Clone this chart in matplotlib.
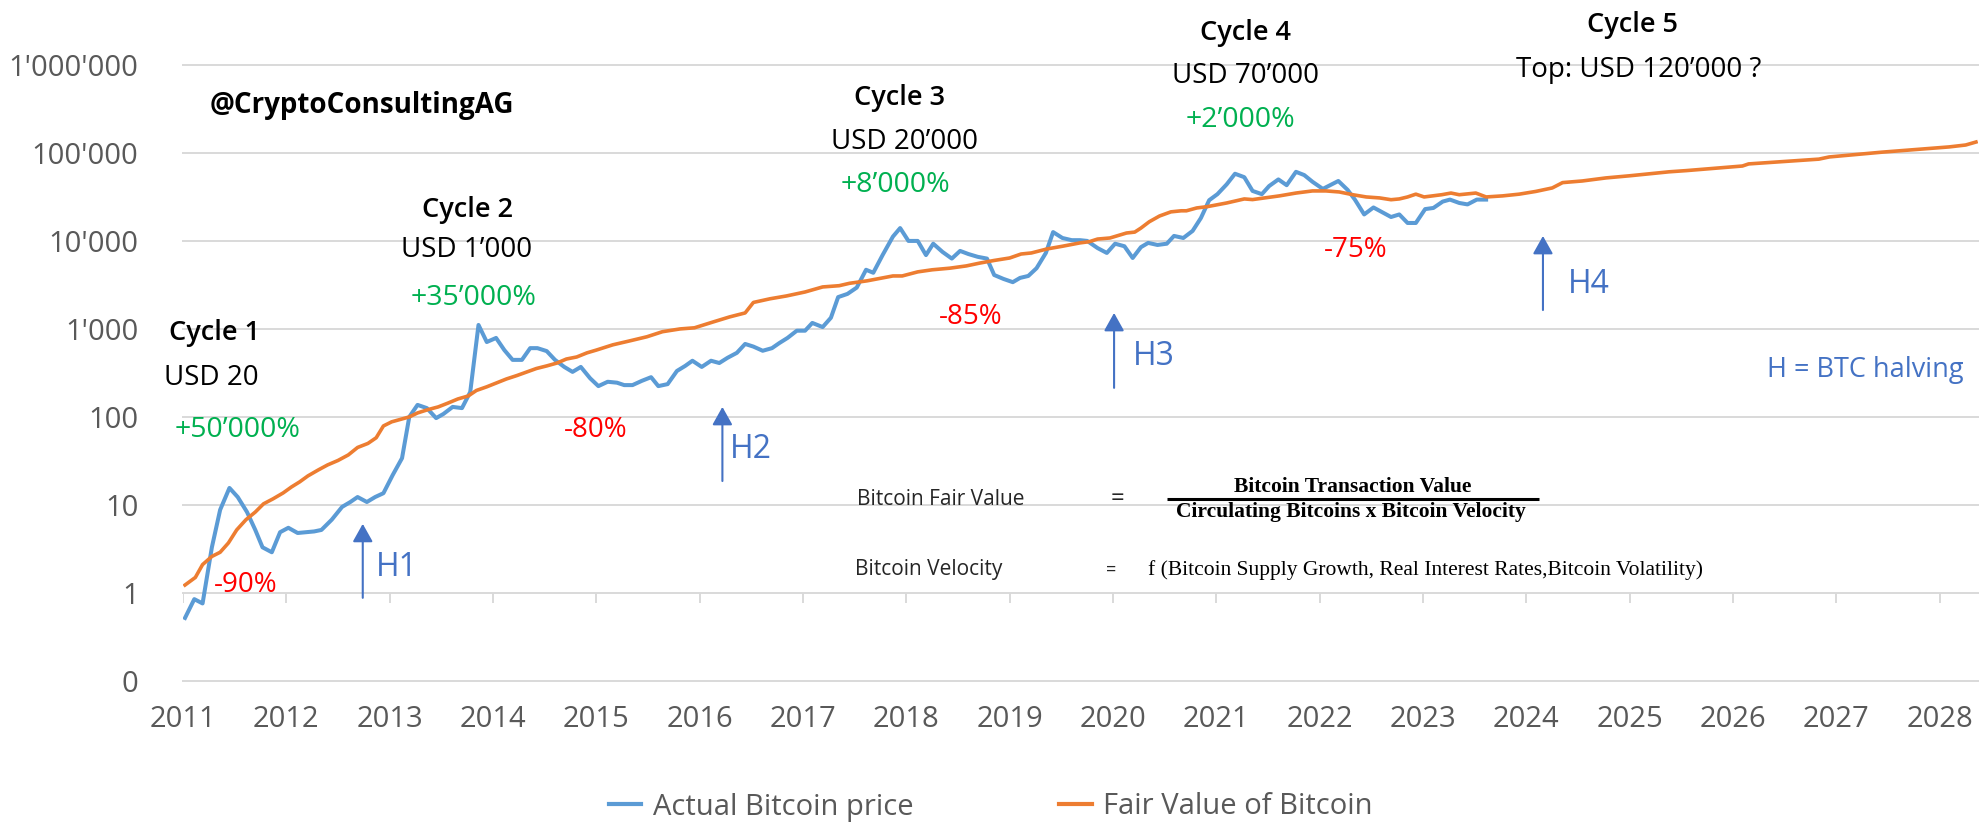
import matplotlib
matplotlib.use("Agg")
import matplotlib.pyplot as plt
from matplotlib.lines import Line2D

plt.rcParams['font.family'] = ['Open Sans', 'DejaVu Sans']

# Actual bitcoin price (monthly)
blue_years = [2011.02, 2011.11, 2011.19, 2011.28, 2011.36, 2011.45, 2011.53, 2011.62, 2011.70, 2011.77,
              2011.86, 2011.94, 2012.02, 2012.11, 2012.19, 2012.27, 2012.34, 2012.44, 2012.54, 2012.62,
              2012.69, 2012.78, 2012.86, 2012.94, 2013.03, 2013.12, 2013.19, 2013.27, 2013.36, 2013.45,
              2013.52, 2013.61, 2013.70, 2013.78, 2013.86, 2013.94, 2014.03, 2014.11, 2014.19, 2014.28,
              2014.36, 2014.43, 2014.52, 2014.60, 2014.69, 2014.77, 2014.85, 2014.94, 2015.02, 2015.11,
              2015.20, 2015.27, 2015.35, 2015.44, 2015.53, 2015.60, 2015.69, 2015.78, 2015.86, 2015.93,
              2016.02, 2016.11, 2016.19, 2016.27, 2016.36, 2016.44, 2016.52, 2016.61, 2016.70, 2016.77,
              2016.85, 2016.94, 2017.02, 2017.09, 2017.19, 2017.27, 2017.34, 2017.43, 2017.52, 2017.61,
              2017.68, 2017.77, 2017.87, 2017.94, 2018.02, 2018.11, 2018.19, 2018.26, 2018.35, 2018.44,
              2018.52, 2018.60, 2018.69, 2018.78, 2018.85, 2018.94, 2019.03, 2019.10, 2019.18, 2019.26,
              2019.35, 2019.42, 2019.51, 2019.60, 2019.68, 2019.75, 2019.85, 2019.94, 2020.02, 2020.11,
              2020.19, 2020.27, 2020.34, 2020.43, 2020.52, 2020.59, 2020.68, 2020.77, 2020.85, 2020.93,
              2021.01, 2021.10, 2021.18, 2021.27, 2021.35, 2021.44, 2021.51, 2021.60, 2021.68, 2021.77,
              2021.85, 2021.93, 2022.03, 2022.10, 2022.18, 2022.27, 2022.34, 2022.43, 2022.52, 2022.61,
              2022.69, 2022.77, 2022.85, 2022.93, 2023.02, 2023.10, 2023.19, 2023.26, 2023.35, 2023.43,
              2023.52, 2023.61]
blue_price = [0.52, 0.85, 0.76, 3.3, 8.8, 15.6, 12.3, 8.3, 5.2, 3.3,
              2.9, 4.9, 5.5, 4.8, 4.9, 5.0, 5.2, 6.8, 9.5, 10.8,
              12.3, 10.8, 12.3, 13.6, 21.9, 34, 100, 137, 126, 97,
              108, 130, 126, 192, 1110, 710, 790, 575, 445, 445,
              605, 605, 560, 445, 370, 325, 370, 275, 224, 251,
              245, 230, 230, 257, 283, 224, 236, 333, 380, 435,
              370, 435, 410, 470, 535, 675, 630, 565, 605, 690,
              790, 955, 955, 1170, 1050, 1340, 2300, 2500, 2950, 4700,
              4350, 6900, 11200, 14000, 10000, 10000, 6900, 9300, 7500, 6300,
              7700, 7100, 6600, 6300, 4100, 3700, 3400, 3800, 4000, 4900,
              7300, 12600, 10800, 10200, 10200, 10000, 8300, 7300, 9300, 8700,
              6400, 8500, 9500, 9000, 9300, 11400, 10800, 13000, 18200, 29000,
              34000, 44000, 58000, 53000, 37000, 34000, 42000, 50000, 43000, 61000,
              56000, 47000, 39000, 43000, 48000, 38000, 29500, 20000, 24000, 21000,
              18700, 20000, 16000, 16000, 23000, 23700, 28000, 29500, 27000, 26000,
              29500, 29500]

# Fair value model
fair_years = [2011.02, 2011.12, 2011.19, 2011.28, 2011.36, 2011.44, 2011.52, 2011.61, 2011.70, 2011.78,
              2011.87, 2011.97, 2012.05, 2012.13, 2012.21, 2012.31, 2012.40, 2012.50, 2012.60, 2012.69,
              2012.79, 2012.87, 2012.94, 2013.02, 2013.12, 2013.19, 2013.27, 2013.37, 2013.47, 2013.56,
              2013.66, 2013.76, 2013.84, 2013.94, 2014.04, 2014.13, 2014.23, 2014.33, 2014.42, 2014.52,
              2014.62, 2014.71, 2014.81, 2014.91, 2015.00, 2015.16, 2015.32, 2015.49, 2015.64, 2015.81,
              2015.95, 2016.13, 2016.29, 2016.44, 2016.52, 2016.68, 2016.84, 2017.02, 2017.19, 2017.35,
              2017.45, 2017.62, 2017.77, 2017.87, 2017.96, 2018.11, 2018.25, 2018.42, 2018.58, 2018.71,
              2018.85, 2019.00, 2019.11, 2019.21, 2019.36, 2019.51, 2019.68, 2019.77, 2019.85, 2019.97,
              2020.13, 2020.21, 2020.27, 2020.35, 2020.45, 2020.56, 2020.66, 2020.71, 2020.81, 2020.91,
              2021.10, 2021.27, 2021.35, 2021.48, 2021.61, 2021.77, 2021.93, 2022.06, 2022.19, 2022.32,
              2022.45, 2022.58, 2022.69, 2022.77, 2022.85, 2022.93, 2023.01, 2023.18, 2023.27, 2023.35,
              2023.51, 2023.61, 2023.77, 2023.93, 2024.09, 2024.25, 2024.35, 2024.54, 2024.77, 2025.00,
              2025.19, 2025.38, 2025.55, 2026.09, 2026.15, 2026.83, 2026.93, 2027.44, 2028.09, 2028.25,
              2028.35]
fair_value = [1.23, 1.5, 2.1, 2.6, 2.9, 3.7, 5.2, 6.8, 8.3, 10.3,
              11.7, 13.7, 16, 18.3, 21.4, 25, 28.5, 32, 37, 45,
              50, 58, 79, 88, 95, 100, 111, 121, 130, 143,
              160, 173, 200, 220, 245, 270, 295, 325, 355, 380,
              410, 455, 480, 535, 575, 660, 730, 815, 930, 1000,
              1030, 1200, 1370, 1520, 2000, 2200, 2370, 2630, 3000, 3100,
              3300, 3520, 3800, 4000, 4000, 4450, 4700, 4900, 5200, 5600,
              6000, 6400, 7100, 7300, 8100, 8700, 9500, 9800, 10500, 10800,
              12300, 12600, 14000, 16500, 19200, 21400, 22000, 22000, 23700, 24500,
              27000, 30000, 29500, 31000, 32500, 35000, 37000, 37000, 36000, 33500,
              31600, 30800, 29400, 30000, 31600, 34000, 31600, 33500, 35000, 33500,
              35000, 31600, 32500, 34000, 36500, 40000, 46000, 48000, 52000, 55000,
              58000, 61000, 63000, 71000, 75000, 85000, 90000, 102000, 117000, 123000,
              133000]

years = list(range(2011, 2029))
y_ticks = [0.1, 1, 10, 100, 1e3, 1e4, 1e5, 1e6]
y_labels = ["0", "1", "10", "100", "1'000", "10'000", "100'000", "1'000'000"]

BLUE = '#5B9BD5'
ORANGE = '#ED7D31'
GRID = '#D9D9D9'
GREY = '#595959'
ARROW = '#4472C4'
GREEN = '#00B050'
RED = '#FF0000'
SERIF = ['Liberation Serif', 'DejaVu Serif']

fig = plt.figure(figsize=(19.82, 8.27), dpi=100)
ax = fig.add_axes([0.0923, 0.1766, 0.9057, 0.7449])

ax.plot(blue_years, blue_price, color=BLUE, lw=2.9, zorder=3, solid_joinstyle='round')
ax.plot(fair_years, fair_value, color=ORANGE, lw=2.6, zorder=4, solid_joinstyle='round')

ax.set_yscale('log')
ax.set_ylim(0.1, 1e6)
ax.set_xlim(2011, 2028.37)
ax.yaxis.set_minor_locator(plt.NullLocator())
ax.set_yticks(y_ticks)
ax.set_yticklabels(y_labels)
ax.set_xticks(years)
ax.set_xticklabels([str(y) for y in years])
ax.tick_params(axis='y', length=0, pad=32, labelsize=21, labelcolor=GREY)
ax.tick_params(axis='x', length=0, pad=17, labelsize=21, labelcolor=GREY)
ax.grid(axis='y', color=GRID, lw=1.4)
for gl in ax.get_ygridlines():
    gl.set_clip_on(False)
for s in ax.spines.values():
    s.set_visible(False)
ax.set_axisbelow(True)

# category tick marks hanging below the "1" line
ax.vlines(years, 10 ** (-10 / 88), 1, color=GRID, lw=1.4, zorder=1)

# annotations
def txt(x, y, s, color='black', size=20, weight='normal', **kw):
    ax.text(x, y, s, color=color, fontsize=size, fontweight=weight,
            ha=kw.pop('ha', 'center'), va=kw.pop('va', 'center'), clip_on=False, **kw)

txt(2012.73, 3.42e5, "@CryptoConsultingAG", size=20, weight='bold')

txt(2011.31, 900, "Cycle 1", size=19.5, weight='semibold')
txt(2011.27, 277, "USD 20")
txt(2011.53, 71, "+50\u2019000%", color=GREEN, size=20.5)
txt(2011.61, 1.23, "-90%", color=RED, size=20)

txt(2013.75, 22500, "Cycle 2", size=19.5, weight='semibold')
txt(2013.74, 7900, "USD 1\u2019000")
txt(2013.81, 2250, "+35\u2019000%", color=GREEN, size=20.5)
txt(2014.99, 71, "-80%", color=RED, size=20)

txt(2017.93, 4.2e5, "Cycle 3", size=19.5, weight='semibold')
txt(2017.98, 1.33e5, "USD 20\u2019000")
txt(2017.89, 43300, "+8\u2019000%", color=GREEN, size=20.5)
txt(2018.62, 1370, "-85%", color=RED, size=20)

txt(2021.28, 2.31e6, "Cycle 4", size=19.5, weight='semibold')
txt(2021.28, 7.5e5, "USD 70\u2019000")
txt(2021.23, 2.37e5, "+2\u2019000%", color=GREEN, size=20.5)
txt(2022.35, 7900, "-75%", color=RED, size=20)

txt(2025.03, 2.85e6, "Cycle 5", size=19.5, weight='semibold')
txt(2025.09, 8.8e5, "Top: USD 120\u2019000 ?")

# halvings
halvings = [("H1", 2012.74, 0.88, 6.1, 2013.07, 1.97),
            ("H2", 2016.22, 18.7, 130, 2016.50, 43),
            ("H3", 2020.01, 214, 1520, 2020.39, 481),
            ("H4", 2024.16, 1640, 11400, 2024.60, 3160)]
for name, hx, y0, y1, tx, ty in halvings:
    ax.annotate('', xy=(hx, y1), xytext=(hx, y0),
                arrowprops=dict(arrowstyle='-|>,head_length=0.5,head_width=0.28',
                                color=ARROW, lw=1.5, shrinkA=0, shrinkB=0,
                                mutation_scale=22), zorder=5)
    txt(tx, ty, name, color=ARROW, size=23)

txt(2027.28, 342, "H = BTC halving", color=ARROW, size=19.5)

# formula
txt(2017.52, 11.4, "Bitcoin Fair Value", size=15, ha='left', color='#262626')
txt(2020.04, 11.7, "=", size=17, color='#262626')
ax.hlines(11.7, 2020.52, 2024.12, color='black', lw=2.2, clip_on=False)
txt(2022.32, 16.0, "Bitcoin Transaction Value", size=15.5, weight='bold', family=SERIF)
txt(2022.30, 8.3, "Circulating Bitcoins x Bitcoin Velocity", size=15.5, weight='bold', family=SERIF)
txt(2017.50, 1.83, "Bitcoin Velocity", size=15, ha='left', color='#262626')
txt(2019.98, 1.83, "=", size=13, color='#262626')
txt(2020.34, 1.83, "f (Bitcoin Supply Growth, Real Interest Rates,Bitcoin Volatility)",
    size=15.5, ha='left', family=SERIF)

handles = [Line2D([], [], color=BLUE, lw=3), Line2D([], [], color=ORANGE, lw=3)]
fig.legend(handles, ["Actual Bitcoin price", "Fair Value of Bitcoin"], loc='center',
           bbox_to_anchor=(0.5, 1 - 807 / 827), ncol=2, frameon=False, fontsize=21,
           labelcolor=GREY, handlelength=1.1, handletextpad=0.4, columnspacing=5)

fig.savefig('out.png', dpi=100)
